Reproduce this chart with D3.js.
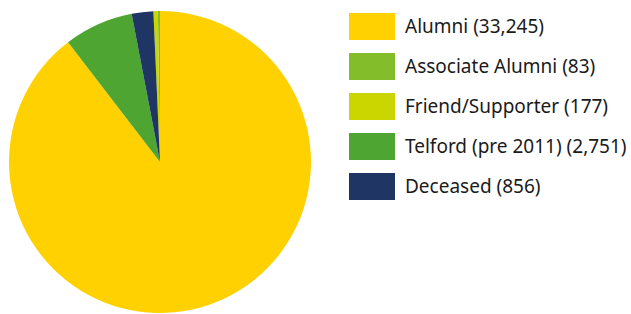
<!DOCTYPE html>
<html>
<head>
<meta charset="utf-8">
<script src="https://cdn.jsdelivr.net/npm/d3@7"></script>
<style>
  body { margin: 0; background: #fff; }
  text { font-family: "Noto Sans", sans-serif; fill: #1a1a1a; }
</style>
</head>
<body>
<svg id="chart" width="631" height="314"></svg>
<script>
// legend order
var categories = ["Alumni", "Associate Alumni", "Friend/Supporter", "Telford (pre 2011)", "Deceased"];
var counts = [33245, 83, 177, 2751, 856];
var colors = ["#ffd100", "#84bd2a", "#cbd500", "#4fa532", "#1f3564"];
// order the slices run clockwise from 12 o'clock
var pieOrder = ["Alumni", "Telford (pre 2011)", "Deceased", "Friend/Supporter", "Associate Alumni"];

var data = categories.map(function(c, i) {
  return {name: c, value: counts[i], color: colors[i]};
});

var svg = d3.select("#chart");
var cx = 160, cy = 162, r = 151;

var pie = d3.pie()
  .value(function(d) { return d.value; })
  .sort(function(a, b) { return pieOrder.indexOf(a.name) - pieOrder.indexOf(b.name); });
var arc = d3.arc().innerRadius(0).outerRadius(r);

svg.append("g")
  .attr("transform", "translate(" + cx + "," + cy + ")")
  .selectAll("path")
  .data(pie(data))
  .enter().append("path")
  .attr("d", arc)
  .attr("fill", function(d) { return d.data.color; });

var fmt = d3.format(",");
var y = d3.scaleBand().domain(categories).range([6, 206]).paddingInner(0);

var leg = svg.append("g").selectAll("g")
  .data(data)
  .enter().append("g")
  .attr("transform", function(d) { return "translate(349," + y(d.name) + ")"; });

leg.append("rect")
  .attr("y", 7)
  .attr("width", 46)
  .attr("height", 27)
  .attr("fill", function(d) { return d.color; });

leg.append("text")
  .attr("x", 56)
  .attr("y", 27)
  .style("font-size", "19px")
  .text(function(d) { return d.name + " (" + fmt(d.value) + ")"; });
</script>
</body>
</html>
